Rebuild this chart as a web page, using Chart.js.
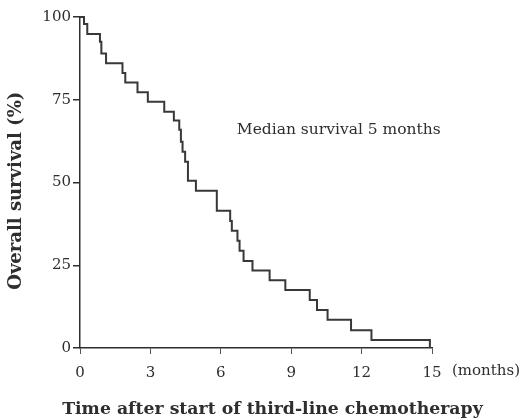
<!DOCTYPE html>
<html>
<head>
<meta charset="utf-8">
<script src="https://cdn.jsdelivr.net/npm/chart.js@4/dist/chart.umd.min.js"></script>
<style>
  html, body { margin: 0; padding: 0; background: #ffffff; }
  #wrap { width: 525px; height: 418px; }
</style>
</head>
<body>
<div id="wrap"><canvas id="km" width="525" height="418"></canvas></div>
<script>
// Kaplan-Meier estimate: time of each event (months) and survival after it (%)
const months = [0, 0.17, 0.31, 0.85, 0.91, 1.11, 1.81, 1.93, 2.45, 2.89,
                3.59, 4.00, 4.23, 4.30, 4.37, 4.48, 4.60, 4.94, 5.83, 6.40,
                6.47, 6.71, 6.80, 6.97, 7.35, 8.08, 8.75, 9.79, 10.10, 10.55,
                11.55, 12.42, 14.91];
const survival = [100, 97.9, 94.9, 92.5, 89.0, 86.0, 83.1, 80.2, 77.3, 74.4,
                  71.4, 68.7, 65.9, 62.3, 59.3, 56.3, 50.5, 47.5, 41.5, 38.4,
                  35.4, 32.4, 29.4, 26.3, 23.4, 20.5, 17.5, 14.5, 11.5, 8.5,
                  5.4, 2.4, 0];
const xTicks = [0, 3, 6, 9, 12, 15];
const yTicks = [0, 25, 50, 75, 100];
const xTitle = 'Time after start of third-line chemotherapy';
const yTitle = 'Overall survival (%)';
const medianNote = 'Median survival 5 months';
const unitNote = '(months)';

const ink = '#2e2e2e';
const serif = '"DejaVu Serif", "Liberation Serif", serif';

// Axis titles and annotations, placed relative to the scales
const notes = {
  id: 'notes',
  afterDraw(chart) {
    const { ctx, scales: { x, y } } = chart;
    ctx.save();
    ctx.fillStyle = ink;
    ctx.textBaseline = 'middle';

    ctx.font = '15.5px ' + serif;
    ctx.textAlign = 'left';
    ctx.fillText(medianNote, x.getPixelForValue(6.68), y.getPixelForValue(65.9));

    ctx.font = '15px ' + serif;
    ctx.fillText(unitNote, x.getPixelForValue(15) + 20, 371);

    ctx.font = 'bold 17.3px ' + serif;
    ctx.textAlign = 'center';
    ctx.fillText(xTitle, x.getPixelForValue(8.2), 410);

    ctx.translate(16, y.getPixelForValue(47.5));
    ctx.rotate(-Math.PI / 2);
    ctx.font = 'bold 18px ' + serif;
    ctx.fillText(yTitle, 0, 0);
    ctx.restore();
  }
};

new Chart(document.getElementById('km'), {
  type: 'line',
  data: {
    datasets: [{
      data: months.map((m, i) => ({ x: m, y: survival[i] })),
      stepped: 'before',
      borderColor: '#383838',
      borderWidth: 2,
      pointRadius: 0,
      fill: false,
      clip: false
    }]
  },
  options: {
    responsive: false,
    animation: false,
    devicePixelRatio: 1,
    layout: { padding: { top: 17, right: 93, left: 0, bottom: 0 } },
    plugins: { legend: { display: false }, tooltip: { enabled: false } },
    scales: {
      x: {
        type: 'linear',
        min: 0,
        max: 15,
        afterBuildTicks: s => { s.ticks = xTicks.map(v => ({ value: v })); },
        afterFit: s => { s.height = 70; },
        grid: { drawOnChartArea: false, drawTicks: true, tickLength: 6, color: '#555555', lineWidth: 1 },
        border: { display: true, color: ink, width: 1.5 },
        ticks: { color: ink, padding: 10, maxRotation: 0, font: { family: serif, size: 15 } },
        title: { display: false }
      },
      y: {
        type: 'linear',
        min: 0,
        max: 100,
        afterBuildTicks: s => { s.ticks = yTicks.map(v => ({ value: v })); },
        afterFit: s => { s.width = 80; },
        grid: { drawOnChartArea: false, drawTicks: true, tickLength: 7, color: ink, lineWidth: 1.5 },
        border: { display: true, color: ink, width: 1.5 },
        ticks: { color: ink, padding: 2, font: { family: serif, size: 15 } },
        title: { display: false }
      }
    }
  },
  plugins: [notes]
});
</script>
</body>
</html>
